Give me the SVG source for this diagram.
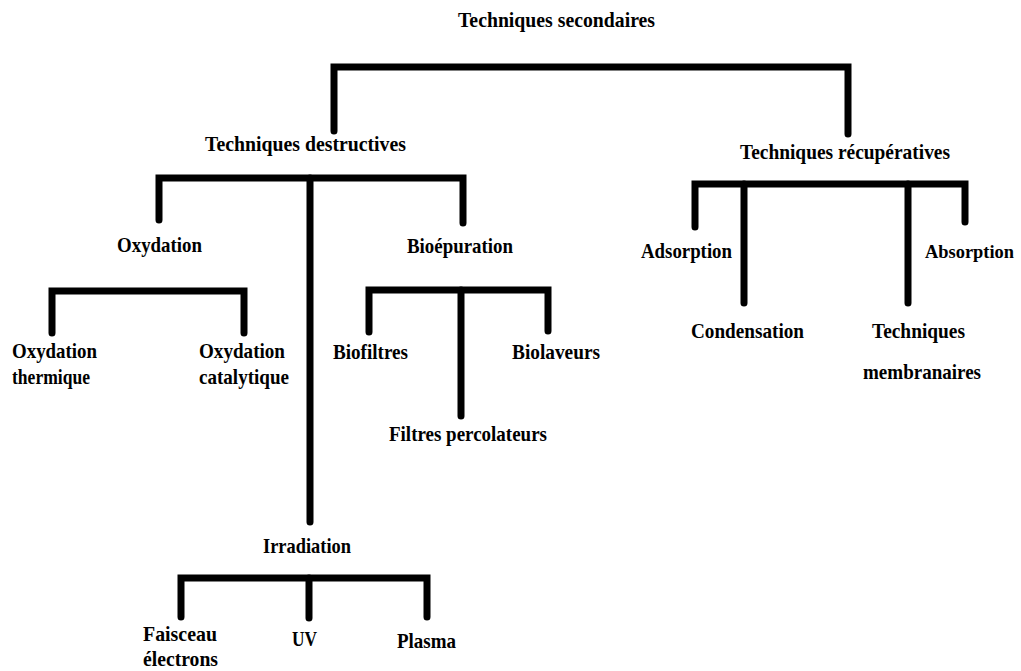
<svg xmlns="http://www.w3.org/2000/svg" width="1021" height="671" viewBox="0 0 1021 671">
<style>
text{font-family:"Liberation Serif","Times New Roman",serif;font-weight:bold;font-size:22px;fill:#000}
.c{fill:none;stroke:#000;stroke-width:7;stroke-linecap:round;stroke-linejoin:miter}
</style>
<rect width="1021" height="671" fill="#fff"/>
<g id="connectors">
<polyline class="c" points="334,131 334,67 848,67 848,134"/>
<polyline class="c" points="159,220 159,178 463,178 463,223"/>
<line class="c" x1="310" y1="178" x2="310" y2="522"/>
<polyline class="c" points="52,333 52,291 244,291 244,333"/>
<polyline class="c" points="369,332 369,290 548,290 548,331"/>
<line class="c" x1="461" y1="290" x2="461" y2="416"/>
<polyline class="c" points="695,227 695,184 965,184 965,222"/>
<line class="c" x1="744" y1="184" x2="744" y2="303"/>
<line class="c" x1="908" y1="184" x2="908" y2="303"/>
<polyline class="c" points="181,617 181,578 427,578 427,617"/>
<line class="c" x1="309" y1="578" x2="309" y2="618"/>
</g>
<g id="n-secondaires"><text x="458" y="27" textLength="197" lengthAdjust="spacingAndGlyphs">Techniques secondaires</text></g>
<g id="n-destructives"><text x="205" y="151" textLength="201" lengthAdjust="spacingAndGlyphs">Techniques destructives</text></g>
<g id="n-recuperatives"><text x="740" y="159" textLength="210" lengthAdjust="spacingAndGlyphs">Techniques récupératives</text></g>
<g id="n-oxydation"><text x="117" y="252" textLength="85" lengthAdjust="spacingAndGlyphs">Oxydation</text></g>
<g id="n-bioepuration"><text x="407" y="253" textLength="106" lengthAdjust="spacingAndGlyphs">Bioépuration</text></g>
<g id="n-ox-thermique"><text x="12" y="358" textLength="85" lengthAdjust="spacingAndGlyphs">Oxydation</text><text x="12" y="384" textLength="78" lengthAdjust="spacingAndGlyphs">thermique</text></g>
<g id="n-ox-catalytique"><text x="199" y="358" textLength="86" lengthAdjust="spacingAndGlyphs">Oxydation</text><text x="199" y="384" textLength="90" lengthAdjust="spacingAndGlyphs">catalytique</text></g>
<g id="n-biofiltres"><text x="333" y="359" textLength="75" lengthAdjust="spacingAndGlyphs">Biofiltres</text></g>
<g id="n-biolaveurs"><text x="512" y="359" textLength="88" lengthAdjust="spacingAndGlyphs">Biolaveurs</text></g>
<g id="n-filtres"><text x="389" y="441" textLength="158" lengthAdjust="spacingAndGlyphs">Filtres percolateurs</text></g>
<g id="n-adsorption"><text x="641" y="258" textLength="91" lengthAdjust="spacingAndGlyphs">Adsorption</text></g>
<g id="n-absorption"><text x="925" y="258" style="font-size:19px" textLength="89" lengthAdjust="spacingAndGlyphs">Absorption</text></g>
<g id="n-condensation"><text x="691" y="338" textLength="113" lengthAdjust="spacingAndGlyphs">Condensation</text></g>
<g id="n-membranaires"><text x="872" y="338" textLength="93" lengthAdjust="spacingAndGlyphs">Techniques</text><text x="863" y="379" textLength="118" lengthAdjust="spacingAndGlyphs">membranaires</text></g>
<g id="n-irradiation"><text x="263" y="553" textLength="88" lengthAdjust="spacingAndGlyphs">Irradiation</text></g>
<g id="n-faisceau"><text x="143" y="641" textLength="74" lengthAdjust="spacingAndGlyphs">Faisceau</text><text x="143" y="666" textLength="75" lengthAdjust="spacingAndGlyphs">électrons</text></g>
<g id="n-uv"><text x="292" y="646" textLength="25" lengthAdjust="spacingAndGlyphs">UV</text></g>
<g id="n-plasma"><text x="397" y="648" textLength="59" lengthAdjust="spacingAndGlyphs">Plasma</text></g>
</svg>
